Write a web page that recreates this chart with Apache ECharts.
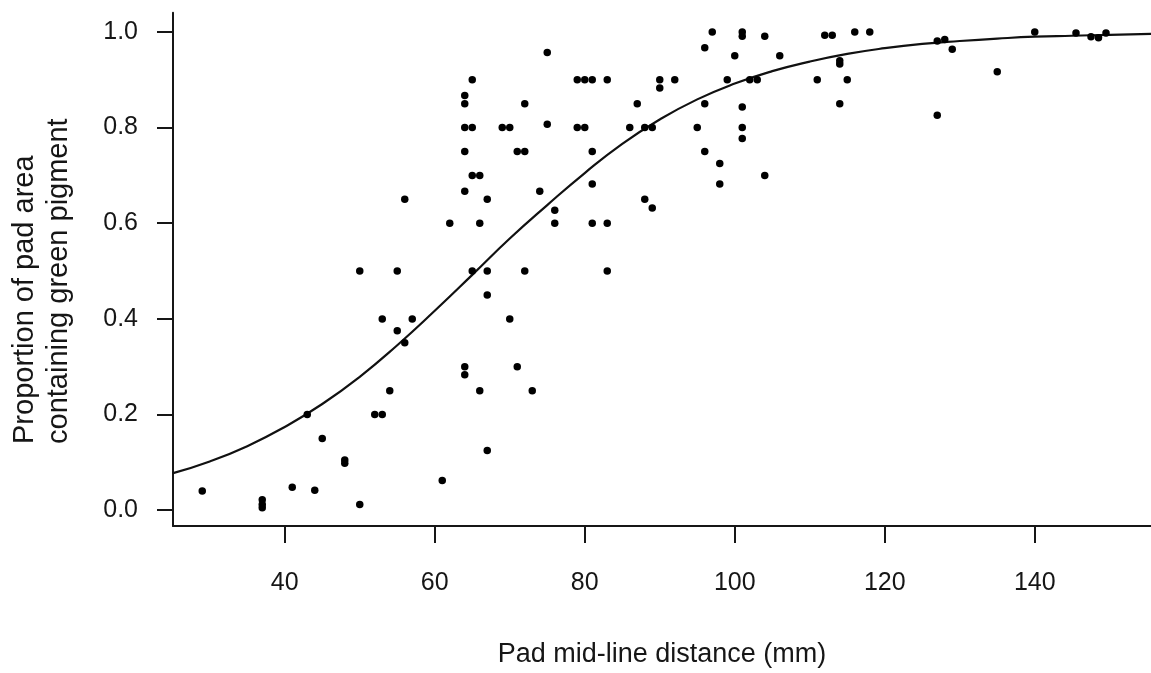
<!DOCTYPE html>
<html>
<head>
<meta charset="utf-8">
<title>Green pigment vs pad mid-line distance</title>
<script src="https://cdn.jsdelivr.net/npm/echarts@6/dist/echarts.min.js"></script>
<style>
  html, body { margin: 0; padding: 0; background: #fff; }
  #chart { width: 1151px; height: 673px; }
</style>
</head>
<body>
<div id="chart"></div>
<script>
// Observed pads: mid-line distance (mm)
const padDistance = [
  29, 37, 37, 37, 41, 43, 44, 45, 48, 48,
  50, 50, 52, 53, 53, 54, 55, 55, 56, 56,
  57, 61, 62, 64, 64, 64, 64, 64, 64, 64,
  65, 65, 65, 65, 66, 66, 66, 67, 67, 67,
  67, 69, 70, 70, 71, 72, 71, 72, 72, 73,
  74, 75, 75, 76, 76, 79, 80, 81, 83, 79,
  80, 81, 81, 81, 83, 83, 86, 87, 88, 89,
  88, 89, 90, 90, 92, 95, 96, 96, 96, 97,
  98, 98, 99, 100, 101, 101, 101, 101, 101, 102,
  103, 104, 104, 106, 111, 112, 113, 114, 114, 114,
  115, 116, 118, 127, 128, 129, 127, 135, 140, 145.5,
  147.5, 148.5, 149.5
];
// Observed pads: proportion of pad area containing green pigment
const greenProportion = [
  0.04, 0.022, 0.012, 0.005, 0.048, 0.2, 0.042, 0.15, 0.105, 0.098,
  0.012, 0.5, 0.2, 0.2, 0.4, 0.25, 0.5, 0.375, 0.35, 0.65,
  0.4, 0.062, 0.6, 0.867, 0.85, 0.8, 0.75, 0.667, 0.3, 0.283,
  0.9, 0.8, 0.7, 0.5, 0.7, 0.6, 0.25, 0.65, 0.5, 0.45,
  0.125, 0.8, 0.8, 0.4, 0.75, 0.75, 0.3, 0.85, 0.5, 0.25,
  0.667, 0.957, 0.807, 0.627, 0.6, 0.9, 0.9, 0.9, 0.9, 0.8,
  0.8, 0.75, 0.682, 0.6, 0.6, 0.5, 0.8, 0.85, 0.8, 0.8,
  0.65, 0.632, 0.9, 0.883, 0.9, 0.8, 0.967, 0.85, 0.75, 1.0,
  0.725, 0.682, 0.9, 0.95, 1.0, 0.991, 0.843, 0.8, 0.777, 0.9,
  0.9, 0.991, 0.7, 0.95, 0.9, 0.993, 0.993, 0.94, 0.933, 0.85,
  0.9, 1.0, 1.0, 0.981, 0.984, 0.964, 0.826, 0.917, 1.0, 0.998,
  0.99, 0.988, 0.998
];

// Fitted logistic curve, sampled along the distance axis
const curveDistance = [
  25, 30, 35, 40, 45, 50, 55, 60, 65, 70,
  75, 80, 85, 90, 95, 100, 105, 110, 115, 120,
  125, 130, 135, 140, 145, 150, 155.5
];
const curveProportion = [
  0.077, 0.102, 0.134, 0.174, 0.222, 0.279, 0.345, 0.417, 0.492, 0.568,
  0.638, 0.705, 0.766, 0.817, 0.859, 0.892, 0.918, 0.938, 0.954, 0.966,
  0.975, 0.981, 0.986, 0.990, 0.992, 0.994, 0.996
];

// Axis tick positions
const xTicks = [40, 60, 80, 100, 120, 140];
const yTicks = [0, 0.2, 0.4, 0.6, 0.8, 1.0];

const ink = '#161616';
const font = 'Liberation Sans, Arial, sans-serif';
const points = padDistance.map((d, i) => [d, greenProportion[i]]);
const curve = curveDistance.map((d, i) => [d, curveProportion[i]]);

const chart = echarts.init(document.getElementById('chart'), null, { renderer: 'canvas' });

chart.setOption({
  backgroundColor: '#ffffff',
  animation: false,
  textStyle: { fontFamily: font },
  grid: { left: 173, top: 12.8, right: 0, bottom: 138.7, containLabel: false },
  xAxis: {
    type: 'value',
    min: 25.1,
    max: 155.5,
    name: 'Pad mid-line distance (mm)',
    nameLocation: 'middle',
    nameGap: 115,
    nameTextStyle: { color: ink, fontSize: 27, fontFamily: font },
    axisLine: { show: true, onZero: false, lineStyle: { color: ink, width: 2 } },
    axisTick: { show: true, customValues: xTicks, length: 17, lineStyle: { color: ink, width: 2 } },
    axisLabel: {
      customValues: xTicks,
      color: ink, fontSize: 25, margin: 45,
      fontFamily: font
    },
    splitLine: { show: false }
  },
  yAxis: {
    type: 'value',
    min: -0.033,
    max: 1.04,
    axisLine: { show: true, onZero: false, lineStyle: { color: ink, width: 2 } },
    axisTick: { show: true, customValues: yTicks, length: 16, lineStyle: { color: ink, width: 2 } },
    axisLabel: {
      customValues: yTicks,
      color: ink, fontSize: 25, margin: 35,
      fontFamily: font,
      formatter: v => v.toFixed(1)
    },
    splitLine: { show: false }
  },
  graphic: [{
    type: 'text',
    x: 8,
    y: 444,
    rotation: Math.PI / 2,
    style: {
      text: 'Proportion of pad area\ncontaining green pigment',
      fill: ink,
      font: '29px "Liberation Sans", Arial, sans-serif',
      textAlign: 'left',
      textVerticalAlign: 'top',
      lineHeight: 34
    }
  }],
  series: [
    {
      type: 'line',
      data: curve,
      smooth: true,
      showSymbol: false,
      symbol: 'none',
      lineStyle: { color: '#111111', width: 2.2 },
      z: 2
    },
    {
      type: 'scatter',
      data: points,
      symbol: 'circle',
      symbolSize: 7.5,
      itemStyle: { color: '#000000', opacity: 1 },
      z: 3
    }
  ]
});
</script>
</body>
</html>
